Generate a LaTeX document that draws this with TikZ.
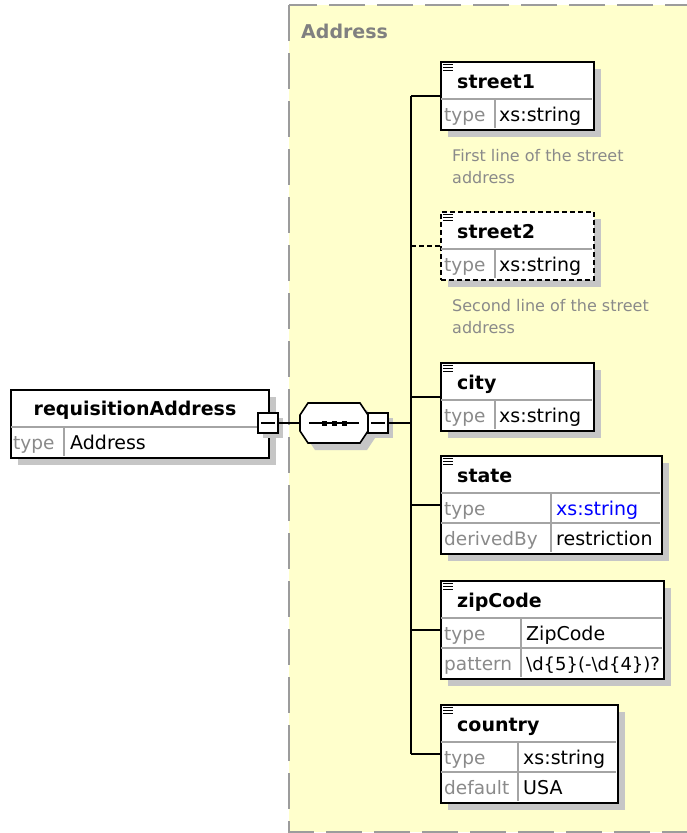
\documentclass[tikz,border=0pt]{standalone}
\usepackage{fontspec}
\setmainfont{DejaVu Sans}
\usepackage{tikz}
\usetikzlibrary{positioning,shadows}
\usepackage{xcolor}
\definecolor{PanelYellow}{HTML}{FFFFCC}
\definecolor{PanelBorder}{HTML}{9C9C9C}
\definecolor{LabelGray}{HTML}{808080}
\definecolor{KeyGray}{HTML}{8A8A8A}
\definecolor{CellLine}{HTML}{A4A4A4}
\definecolor{ShadowGray}{HTML}{C6C6C6}
\definecolor{TypeBlue}{HTML}{0000FF}

\begin{document}
\begin{tikzpicture}[x=1pt,y=-1pt,
    boxshadow/.style={drop shadow={shadow xshift=#1,shadow yshift=-#1,fill=ShadowGray,opacity=1}},
    boxshadow/.default=7pt,
    elem/.style={draw,line width=1.6pt,fill=white,inner sep=0pt,anchor=north west,boxshadow},
    optional/.style={dash pattern=on 5pt off 3pt},
    expander/.style={draw,line width=1.6pt,fill=white,minimum size=20pt,inner sep=0pt,boxshadow=5pt},
    ttl/.style={font=\fontsize{19}{22}\selectfont\bfseries,inner sep=0pt,anchor=base west},
    keytext/.style={font=\fontsize{18.5}{22}\selectfont,text=KeyGray,inner sep=0pt,anchor=base west},
    valtext/.style={font=\fontsize{19}{22}\selectfont,inner sep=0pt,anchor=base west},
    doctext/.style={font=\fontsize{16}{20}\selectfont,text=KeyGray,inner sep=0pt,anchor=base west},
    cellline/.style={CellLine,line width=1.2pt},
    link/.style={line width=1.6pt}]
  \useasboundingbox (0,0) rectangle (687,833);
  % 类型区域 Address
  \draw[PanelBorder,fill=PanelYellow,line width=2.5pt,dash pattern=on 36pt off 12pt] (289,5) rectangle (700,832);
  \node[ttl,text=LabelGray] (addrLabel) at (301,38) {Address};
  % 根元素
  \node[elem,minimum width=258,minimum height=68] (reqAddr) at (10,389) {};
  \draw[cellline] (11,427) -- (267,427) (64,427) -- (64,456);
  \node[ttl,anchor=base] (reqAddr-name) at (135,415) {requisitionAddress};
  \node[keytext] (reqAddr-k) at (13,449) {type};
  \node[valtext] (reqAddr-v) at (70,449) {Address};
  \node[expander] (reqExp) at (268,423) {};
  \draw[link] ([xshift=4pt]reqExp.west) -- ([xshift=-4pt]reqExp.east);
  % 序列
  \node[minimum width=68,minimum height=40,inner sep=0pt] (seq) at (334,423) {};
  \draw[link,fill=white,boxshadow] (300,415) -- (308,403) -- (360,403) -- (368,415)
    -- (368,431) -- (360,443) -- (308,443) -- (300,431) -- cycle;
  \draw[link] ([xshift=9pt]seq.west) -- ([xshift=-9pt]seq.east);
  \foreach \i in {324.5,334.5,344.5}
    \fill (\i-2.5,420.5) rectangle (\i+2.5,425.5);
  \node[expander] (seqExp) at (378,423) {};
  \draw[link] ([xshift=4pt]seqExp.west) -- ([xshift=-4pt]seqExp.east);
  % 子元素
  \foreach \n/\t/\w/\c/\h/\s in {street1/61/153/55/68/solid, street2/211/153/55/68/optional,
      city/362/153/55/68/solid, state/455/221/111/98/solid, zipCode/580/223/81/98/solid,
      country/704/177/78/98/solid}{
    \node[elem,\s,minimum width=\w,minimum height=\h] (\n) at (440,\t) {};
    \draw[cellline] (441,\t+38) -- (439+\w,\t+38) (440+\c,\t+38) -- (440+\c,\t+\h-1);
    \ifnum\h>70 \draw[cellline] (441,\t+68) -- (439+\w,\t+68); \fi
    \foreach \k in {3,6,9}
      \draw[line width=1pt] (443,\t+\k) -- (453,\t+\k);
    \node[ttl] (\n-name) at (457,\t+27) {\n};
  }
  \node[keytext] (street1-k) at (444,121) {type};
  \node[valtext] (street1-v) at (499,121) {xs:string};
  \node[doctext] (street1-d1) at (452,161) {First line of the street};
  \node[doctext] (street1-d2) at (452,183) {address};
  \node[keytext] (street2-k) at (444,271) {type};
  \node[valtext] (street2-v) at (499,271) {xs:string};
  \node[doctext] (street2-d1) at (452,311) {Second line of the street};
  \node[doctext] (street2-d2) at (452,333) {address};
  \node[keytext] (city-k) at (444,422) {type};
  \node[valtext] (city-v) at (499,422) {xs:string};
  \node[keytext] (state-k1) at (444,515) {type};
  \node[valtext,text=TypeBlue] (state-v1) at (556,515) {xs:string};
  \node[keytext] (state-k2) at (444,545) {derivedBy};
  \node[valtext] (state-v2) at (556,545) {restriction};
  \node[keytext] (zipCode-k1) at (444,640) {type};
  \node[valtext] (zipCode-v1) at (526,640) {ZipCode};
  \node[keytext] (zipCode-k2) at (444,670) {pattern};
  \node[valtext,font=\fontsize{18}{22}\selectfont] (zipCode-v2) at (526,670) {\textbackslash d\{5\}(-\textbackslash d\{4\})?};
  \node[keytext] (country-k1) at (444,764) {type};
  \node[valtext] (country-v1) at (523,764) {xs:string};
  \node[keytext] (country-k2) at (444,794) {default};
  \node[valtext] (country-v2) at (523,794) {USA};
  % 连线
  \coordinate (bus) at (411,0);
  \draw[link] (reqExp.east) -- (seq.west);
  \draw[link] (seqExp.east) -- (bus |- seqExp.east);
  \draw[link] (bus |- street1.west) -- (bus |- country.west);
  \foreach \e in {street1,city,state,zipCode,country}
    \draw[link] (bus |- \e.west) -- (\e.west);
  \draw[link,optional] (bus |- street2.west) -- (street2.west);
\end{tikzpicture}
\end{document}
